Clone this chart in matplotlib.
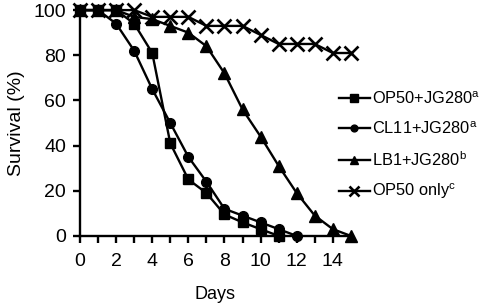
import matplotlib
matplotlib.use("Agg")
import matplotlib.pyplot as plt

plt.rcParams['font.family'] = ['Liberation Sans', 'DejaVu Sans']
plt.rcParams['mathtext.fontset'] = 'custom'
plt.rcParams['mathtext.rm'] = 'Liberation Sans'

days_op50_jg = [0, 1, 2, 3, 4, 5, 6, 7, 8, 9, 10, 11]
op50_jg = [100, 100, 100, 94, 81, 41, 25, 19, 9.5, 6, 3, 0]

days_cl11 = [0, 1, 2, 3, 4, 5, 6, 7, 8, 9, 10, 11, 12]
cl11_jg = [100, 100, 94, 82, 65, 50, 35, 24, 12, 9, 6, 3, 0]

days_lb1 = [0, 1, 2, 3, 4, 5, 6, 7, 8, 9, 10, 11, 12, 13, 14, 15]
lb1_jg = [100, 100, 100, 97, 96, 93, 90, 84, 72, 56, 44, 31, 19, 9, 3, 0]

days_op50 = [0, 1, 2, 3, 4, 5, 6, 7, 8, 9, 10, 11, 12, 13, 14, 15]
op50_only = [100, 100, 100, 100, 97, 97, 97, 93, 93, 93, 89, 85, 85, 85, 81, 81]

labels = ['OP50+JG280$^{\\mathrm{a}}$', 'CL11+JG280$^{\\mathrm{a}}$',
          'LB1+JG280$^{\\mathrm{b}}$', 'OP50 only$^{\\mathrm{c}}$']
xticks_major = [0, 2, 4, 6, 8, 10, 12, 14]
yticks = [0, 20, 40, 60, 80, 100]

fig = plt.figure(figsize=(4.82, 3.06), dpi=100)
ax = fig.add_axes([0.166, 0.229, 0.562, 0.738])

lw = 1.7
ax.plot(days_op50_jg, op50_jg, '-s', color='black', lw=lw, ms=7.5, clip_on=False, zorder=3, label=labels[0])
ax.plot(days_cl11, cl11_jg, '-o', color='black', lw=lw, ms=7, clip_on=False, zorder=3, label=labels[1])
ax.plot(days_lb1, lb1_jg, '-^', color='black', lw=lw, ms=9, clip_on=False, zorder=3, label=labels[2])
ax.plot(days_op50, op50_only, '-x', color='black', lw=lw, ms=9.5, mew=1.9, clip_on=False, zorder=3, label=labels[3])

ax.set_xlim(0, 15)
ax.set_ylim(0, 100)
ax.set_xticks(xticks_major)
ax.set_xticks(range(0, 16), minor=True)
ax.set_yticks(yticks)
for s in ['top', 'right']:
    ax.spines[s].set_visible(False)
for s in ['left', 'bottom']:
    ax.spines[s].set_linewidth(1.7)
ax.tick_params(axis='both', which='both', direction='out', length=5, width=1.7, labelsize=14, pad=5)
ax.tick_params(axis='x', which='major', pad=7)

ax.set_xlabel('Days', fontsize=13, labelpad=12)
ax.set_ylabel('Survival (%)', fontsize=14, labelpad=6)

leg = fig.legend(loc='center left', bbox_to_anchor=(0.703, 0.523), frameon=False,
                 fontsize=11.8, handlelength=1.9, handletextpad=0.15, labelspacing=0.8,
                 markerscale=0.7, borderpad=0, borderaxespad=0)

fig.savefig('out.png', dpi=100)
